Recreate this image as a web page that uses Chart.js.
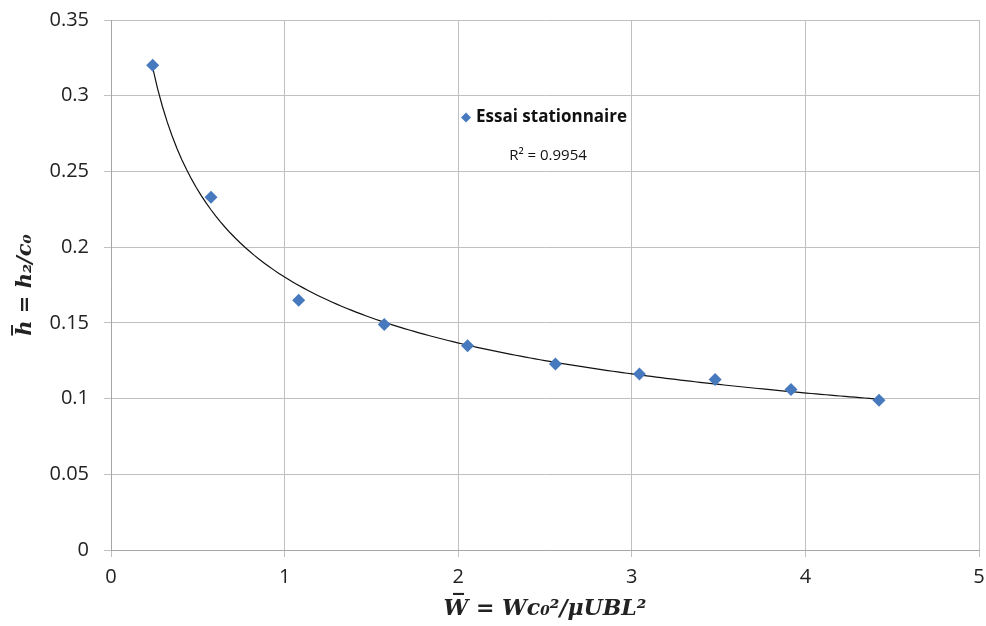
<!DOCTYPE html>
<html>
<head>
<meta charset="utf-8">
<script src="https://cdn.jsdelivr.net/npm/chart.js@4"></script>
<style>
  html, body { margin: 0; padding: 0; background: #fff; }
  #wrap { width: 986px; height: 626px; }
</style>
</head>
<body>
<div id="wrap"><canvas id="essaiChart" width="986" height="626"></canvas></div>
<script>
// valeurs
const wBar = [0.240, 0.576, 1.081, 1.574, 2.054, 2.560, 3.044, 3.480, 3.917, 4.424];
const hBar = [0.3202, 0.2329, 0.165, 0.1489, 0.1349, 0.1228, 0.1162, 0.1126, 0.1060, 0.0989];
const seriesName = 'Essai stationnaire';
const r2Label = 'R² = 0.9954';
const xTicks = [0, 1, 2, 3, 4, 5];
const yTicks = [0, 0.05, 0.1, 0.15, 0.2, 0.25, 0.3, 0.35];

const points = wBar.map((w, i) => ({ x: w, y: hBar[i] }));

// courbe de tendance puissance (moindres carrés sur ln x, ln y)
function powerFit(xs, ys) {
    const lx = xs.map(Math.log), ly = ys.map(Math.log);
    const n = xs.length;
    const mx = lx.reduce((a, b) => a + b, 0) / n;
    const my = ly.reduce((a, b) => a + b, 0) / n;
    let sxy = 0, sxx = 0;
    for (let i = 0; i < n; i++) {
        sxy += (lx[i] - mx) * (ly[i] - my);
        sxx += (lx[i] - mx) * (lx[i] - mx);
    }
    const b = sxy / sxx;
    const a = Math.exp(my - b * mx);
    return { a, b };
}
const fit = powerFit(wBar, hBar);
const xMin = Math.min(...wBar), xMax = Math.max(...wBar);
const trend = [];
for (let i = 0; i <= 150; i++) {
    const x = xMin + (xMax - xMin) * i / 150;
    trend.push({ x: x, y: fit.a * Math.pow(x, fit.b) });
}

const blue = '#4679bd';

const legendInside = {
    id: 'legendInside',
    afterDraw(chart) {
        const ctx = chart.ctx;
        const ca = chart.chartArea;
        const mx = ca.left + (ca.right - ca.left) * 0.409;
        const my = ca.top + (ca.bottom - ca.top) * 0.184;
        ctx.save();
        ctx.fillStyle = blue;
        ctx.beginPath();
        ctx.moveTo(mx, my - 5);
        ctx.lineTo(mx + 5, my);
        ctx.lineTo(mx, my + 5);
        ctx.lineTo(mx - 5, my);
        ctx.closePath();
        ctx.fill();
        ctx.fillStyle = '#111';
        ctx.textBaseline = 'middle';
        ctx.textAlign = 'left';
        ctx.font = 'bold 17px "Open Sans"';
        ctx.fillText(seriesName, mx + 10, my);
        ctx.textAlign = 'center';
        ctx.font = '15px "Open Sans"';
        ctx.fillText(r2Label, mx + 82, my + 38);
        ctx.restore();
    }
};

function noPad(scale) {
    scale.paddingTop = 0;
    scale.paddingBottom = 0;
    scale.paddingLeft = 0;
    scale.paddingRight = 0;
}

const ctx1 = document.getElementById('essaiChart').getContext('2d');
const essaiChart = new Chart(ctx1, {
    type: 'scatter',
    data: {
        datasets: [{
            label: seriesName,
            data: points,
            pointStyle: 'rectRot',
            pointRadius: 6.5,
            pointHoverRadius: 6.5,
            backgroundColor: blue,
            borderColor: blue,
            borderWidth: 0,
            order: 1
        }, {
            label: 'Puissance',
            data: trend,
            type: 'line',
            showLine: true,
            pointRadius: 0,
            borderColor: '#111',
            borderWidth: 1.2,
            fill: false,
            tension: 0,
            order: 2
        }]
    },
    options: {
        responsive: false,
        animation: false,
        layout: { padding: { top: 20, right: 7, left: 0, bottom: 0 } },
        scales: {
            x: {
                type: 'linear',
                min: 0,
                max: 5,
                afterBuildTicks: (scale) => { scale.ticks = xTicks.map(v => ({ value: v })); },
                afterFit: (scale) => { scale.height = 76; noPad(scale); },
                grid: { color: '#c0c0c0', tickLength: 7, tickColor: '#c0c0c0' },
                border: { color: '#a6a6a6' },
                ticks: {
                    color: '#222',
                    font: { family: 'Open Sans', size: 20 },
                    padding: 8,
                    maxRotation: 0
                },
                title: {
                    display: true,
                    text: 'W̅ = Wc₀²/μUBL²',
                    color: '#222',
                    font: { family: 'DejaVu Serif', size: 22, weight: 'bold', style: 'italic' },
                    padding: { top: 0 }
                }
            },
            y: {
                min: 0,
                max: 0.35,
                afterBuildTicks: (scale) => { scale.ticks = yTicks.map(v => ({ value: v })); },
                afterFit: (scale) => { scale.width = 111; noPad(scale); },
                grid: { color: '#c0c0c0', tickLength: 7, tickColor: '#c0c0c0' },
                border: { color: '#a6a6a6' },
                ticks: {
                    color: '#222',
                    font: { family: 'Open Sans', size: 20 },
                    padding: 15,
                    callback: (v) => String(v)
                },
                title: {
                    display: true,
                    text: 'h̅ = h₂/c₀',
                    color: '#222',
                    font: { family: 'DejaVu Serif', size: 21, weight: 'bold', style: 'italic' },
                    padding: { top: 13, bottom: 0 }
                }
            }
        },
        plugins: {
            legend: { display: false },
            tooltip: { enabled: false }
        }
    },
    plugins: [legendInside]
});
</script>
</body>
</html>
